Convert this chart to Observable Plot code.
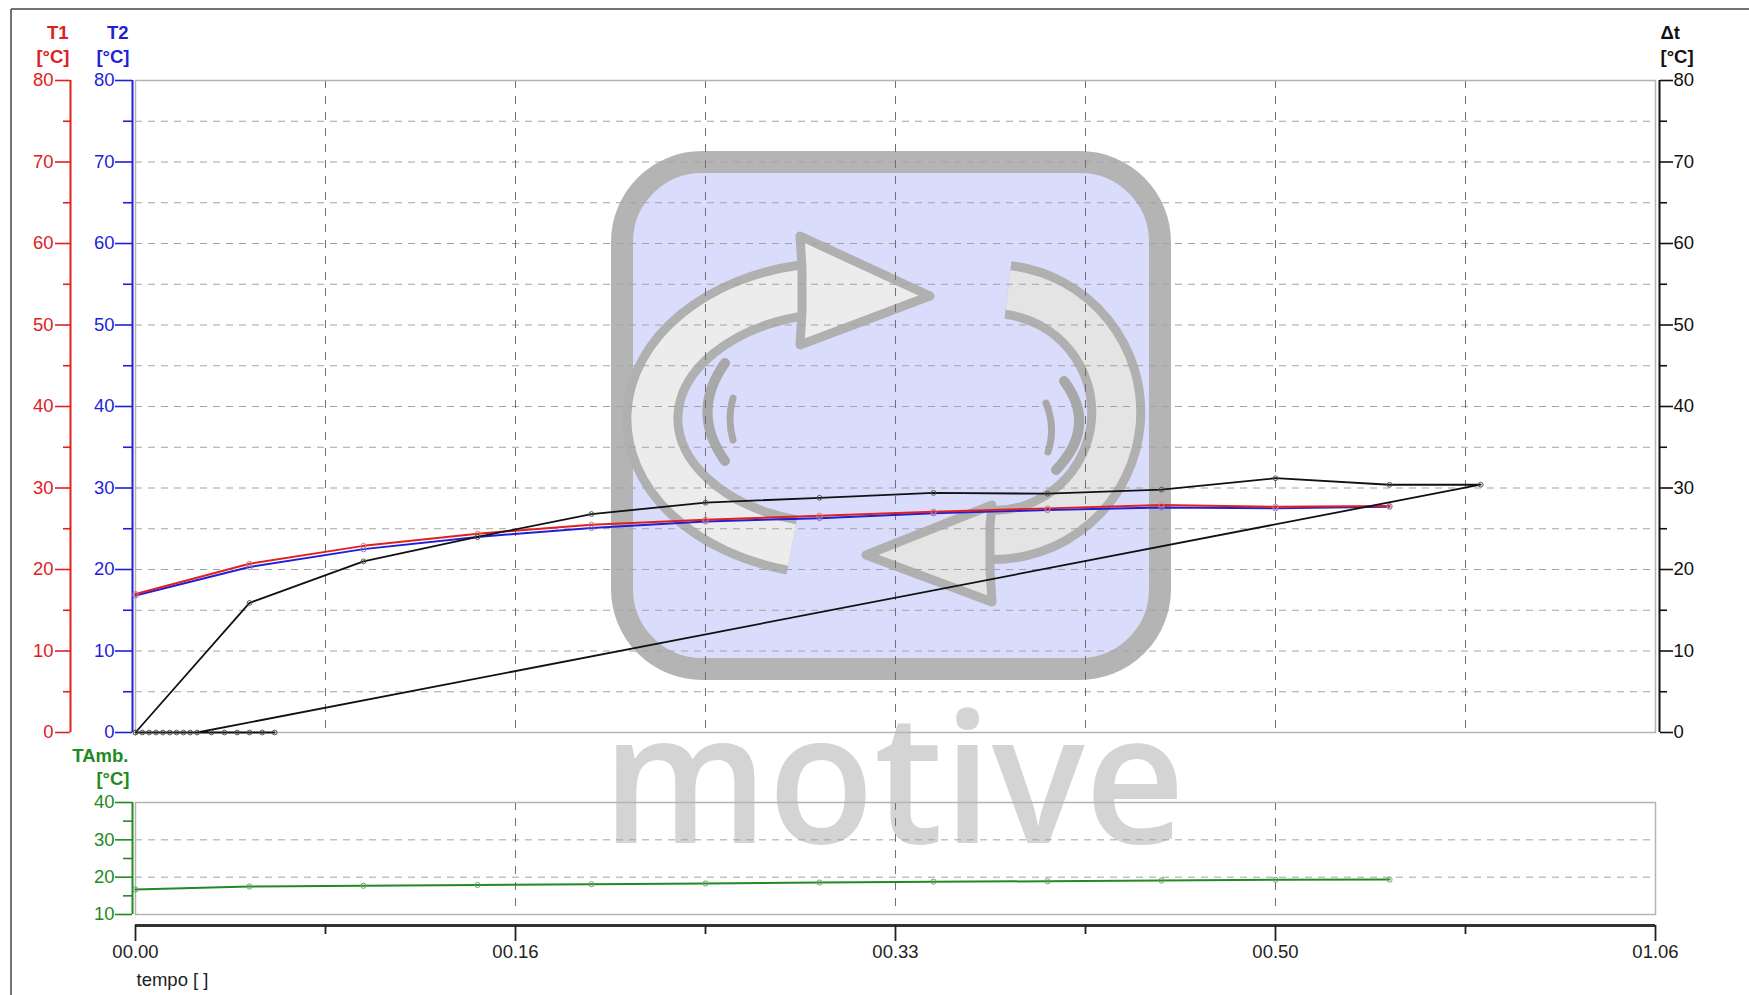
<!DOCTYPE html>
<html>
<head>
<meta charset="utf-8">
<script src="https://cdn.jsdelivr.net/npm/d3@7"></script>
<script src="https://cdn.jsdelivr.net/npm/@observablehq/plot@0.6"></script>
<style>
  html, body { margin: 0; padding: 0; background: #fff; overflow: hidden; }
  #wrap { position: relative; width: 1749px; height: 995px; font-family: "Liberation Sans", Arial, sans-serif; }
  #wrap > svg { position: absolute; left: 0; top: 0; max-width: none !important; }
</style>
</head>
<body>
<div id="wrap"></div>
<script>
// ---------- data ----------
const time = [0, 5, 10, 15, 20, 25, 30, 35, 40, 45, 50, 55];
const t1 = [17.0, 20.7, 22.9, 24.4, 25.5, 26.1, 26.6, 27.1, 27.5, 27.9, 27.7, 27.8];
const t2 = [16.8, 20.3, 22.5, 24.0, 25.1, 25.9, 26.3, 26.9, 27.3, 27.6, 27.5, 27.7];
const tamb = [16.7, 17.5, 17.7, 17.9, 18.1, 18.3, 18.55, 18.8, 18.9, 19.1, 19.3, 19.35];
// Δt series as recorded (order of samples as drawn by the logger)
const dtTime = [0, 5, 10, 15, 20, 25, 30, 35, 40, 45, 50, 55, 59,
                2.7, 2.4, 2.1, 1.8, 1.5, 1.2, 0.9, 0.6, 0.3, 0,
                3.33, 3.9, 4.46, 5.0, 5.56, 6.1];
const dtVal = [0, 15.9, 21.0, 24.0, 26.8, 28.2, 28.8, 29.4, 29.3, 29.8, 31.2, 30.4, 30.4,
               0, 0, 0, 0, 0, 0, 0, 0, 0, 0,
               0, 0, 0, 0, 0, 0];

// axes / ticks
const xDomain = [0, 66.667];
const xMajor = [0, 16.667, 33.333, 50, 66.667];
const xLabels = ["00.00", "00.16", "00.33", "00.50", "01.06"];
const xMinor = [8.333, 25, 41.667, 58.333];
const xGridMain = [8.333, 16.667, 25, 33.333, 41.667, 50, 58.333];
const xGridAmb = [16.667, 33.333, 50];
const yMajor = [0, 10, 20, 30, 40, 50, 60, 70, 80];
const yMinor = [5, 15, 25, 35, 45, 55, 65, 75];
const yGrid = [5, 10, 15, 20, 25, 30, 35, 40, 45, 50, 55, 60, 65, 70, 75];
const ambMajor = [10, 20, 30, 40];
const ambMinor = [15, 25, 35];
const ambGrid = [20, 30];

const RED = "#e0201f", BLUE = "#1f1fd8", GREEN = "#238a23", BLACK = "#111";
const FONT = "'Liberation Sans', Arial, sans-serif";

const rows = (xs, ys) => xs.map((x, i) => ({x, y: ys[i]}));
const T1 = rows(time, t1), T2 = rows(time, t2), TA = rows(time, tamb), DT = rows(dtTime, dtVal);
const xLabelMap = new Map(xMajor.map((v, i) => [v, xLabels[i]]));

const wrap = document.getElementById("wrap");

// ---------- watermark / outer frame (decoration) ----------
const deco = `
<svg width="1749" height="995" xmlns="http://www.w3.org/2000/svg" style="position:absolute;left:0;top:0">
  <line x1="11" y1="9" x2="1749" y2="9" stroke="#444" stroke-width="1.5"/>
  <line x1="11" y1="9" x2="11" y2="995" stroke="#444" stroke-width="1.5"/>
  <rect x="622" y="162" width="538" height="507" rx="80" fill="#d9ddfb" stroke="#b4b4b4" stroke-width="22"/>
  <g fill="none" stroke-linecap="butt">
    <path d="M792,545 A189,131 0 0 1 805,290" stroke="#b0b0b0" stroke-width="60"/>
    <path d="M792,545 A189,131 0 0 1 805,290" stroke="#ececec" stroke-width="42"/>
    <path d="M1008,290 A123,123 0 0 1 988,535" stroke="#b0b0b0" stroke-width="58"/>
    <path d="M1008,290 A123,123 0 0 1 988,535" stroke="#e4e4e4" stroke-width="40"/>
  </g>
  <polygon points="800,236 930,296 800,345 802,312 802,268" fill="#ececec" stroke="#b0b0b0" stroke-width="9" stroke-linejoin="round"/>
  <polygon points="992,505 866,555 992,602 990,570 990,525" fill="#e4e4e4" stroke="#b0b0b0" stroke-width="9" stroke-linejoin="round"/>
  <g fill="none" stroke="#a8a8a8" stroke-linecap="round">
    <path d="M725,363 Q690,412 725,461" stroke-width="10"/>
    <path d="M733,398 Q727,418 733,440" stroke-width="7"/>
    <path d="M1064,381 Q1098,426 1056,470" stroke-width="10"/>
    <path d="M1046,403 Q1056,428 1048,452" stroke-width="7"/>
  </g>
  <text x="602" y="843" font-family="'Open Sans', 'DejaVu Sans', sans-serif" font-weight="600" font-size="182" fill="#d4d4d4" textLength="583" lengthAdjust="spacingAndGlyphs">motive</text>
</svg>`;
wrap.insertAdjacentHTML("beforeend", deco);

const svgStyle = {background: "transparent", fontFamily: FONT, overflow: "visible", maxWidth: "none"};

// ---------- main panel ----------
const main = Plot.plot({
  width: 1749, height: 995,
  marginLeft: 135, marginRight: 94, marginTop: 80, marginBottom: 263,
  x: {domain: xDomain, axis: null},
  y: {domain: [0, 80], axis: null},
  style: svgStyle,
  marks: [
    Plot.ruleY(yGrid, {stroke: "#a3a3a3", strokeDasharray: "7,6", strokeWidth: 1}),
    Plot.ruleX(xGridMain, {stroke: "#707070", strokeDasharray: "8,8", strokeWidth: 1}),
    Plot.frame({stroke: "#b4b4b4", strokeWidth: 1.5}),
    // T1 axis (red)
    Plot.ruleX([0], {y1: 0, y2: 80, dx: -65, stroke: RED, strokeWidth: 2}),
    Plot.axisY(yMajor, {anchor: "left", dx: -65, tickSize: 15, tickPadding: 2, color: RED, fontSize: 18.5, strokeWidth: 1.6, label: null, tickFormat: d => String(d)}),
    Plot.axisY(yMinor, {anchor: "left", dx: -65, tickSize: 7, color: RED, strokeWidth: 1.6, label: null, tickFormat: () => ""}),
    Plot.text(["T1"], {frameAnchor: "top-left", dx: -67, dy: -47, textAnchor: "end", lineAnchor: "middle", fill: RED, fontSize: 18.5, fontWeight: "bold"}),
    Plot.text(["[°C]"], {frameAnchor: "top-left", dx: -66, dy: -23, textAnchor: "end", lineAnchor: "middle", fill: RED, fontSize: 18.5, fontWeight: "bold"}),
    // T2 axis (blue)
    Plot.ruleX([0], {y1: 0, y2: 80, dx: -3, stroke: BLUE, strokeWidth: 2}),
    Plot.axisY(yMajor, {anchor: "left", dx: -3, tickSize: 17, tickPadding: 1, color: BLUE, fontSize: 18.5, strokeWidth: 1.6, label: null, tickFormat: d => String(d)}),
    Plot.axisY(yMinor, {anchor: "left", dx: -3, tickSize: 9, color: BLUE, strokeWidth: 1.6, label: null, tickFormat: () => ""}),
    Plot.text(["T2"], {frameAnchor: "top-left", dx: -7, dy: -47, textAnchor: "end", lineAnchor: "middle", fill: BLUE, fontSize: 18.5, fontWeight: "bold"}),
    Plot.text(["[°C]"], {frameAnchor: "top-left", dx: -6, dy: -23, textAnchor: "end", lineAnchor: "middle", fill: BLUE, fontSize: 18.5, fontWeight: "bold"}),
    // Δt axis (black, right)
    Plot.ruleX([xDomain[1]], {y1: 0, y2: 80, dx: 4, stroke: BLACK, strokeWidth: 2}),
    Plot.axisY(yMajor, {anchor: "right", dx: 4, tickSize: 13, tickPadding: 1, color: BLACK, fontSize: 18.5, strokeWidth: 1.6, label: null, tickFormat: d => String(d)}),
    Plot.axisY(yMinor, {anchor: "right", dx: 4, tickSize: 7, color: BLACK, strokeWidth: 1.6, label: null, tickFormat: () => ""}),
    Plot.text(["Δt"], {frameAnchor: "top-right", dx: 5, dy: -47, textAnchor: "start", lineAnchor: "middle", fill: BLACK, fontSize: 18.5, fontWeight: "bold"}),
    Plot.text(["[°C]"], {frameAnchor: "top-right", dx: 5, dy: -23, textAnchor: "start", lineAnchor: "middle", fill: BLACK, fontSize: 18.5, fontWeight: "bold"}),
    // data
    Plot.line(T2, {x: "x", y: "y", stroke: BLUE, strokeWidth: 2}),
    Plot.dot(T2, {x: "x", y: "y", r: 2.6, stroke: "#7a7ad8", strokeWidth: 1, fill: "none"}),
    Plot.line(T1, {x: "x", y: "y", stroke: RED, strokeWidth: 2}),
    Plot.dot(T1, {x: "x", y: "y", r: 2.6, stroke: "#d88080", strokeWidth: 1, fill: "none"}),
    Plot.line(DT, {x: "x", y: "y", stroke: BLACK, strokeWidth: 1.8, curve: "linear"}),
    Plot.dot(DT, {x: "x", y: "y", r: 2.4, stroke: "#555", strokeWidth: 1, fill: "none"})
  ]
});
wrap.appendChild(main);

// ---------- ambient panel + time axis ----------
const amb = Plot.plot({
  width: 1749, height: 995,
  marginLeft: 135, marginRight: 94, marginTop: 802, marginBottom: 81,
  x: {domain: xDomain, axis: null},
  y: {domain: [10, 40], axis: null},
  style: svgStyle,
  marks: [
    Plot.ruleY(ambGrid, {stroke: "#a3a3a3", strokeDasharray: "7,6", strokeWidth: 1}),
    Plot.ruleX(xGridAmb, {stroke: "#707070", strokeDasharray: "8,8", strokeWidth: 1}),
    Plot.frame({stroke: "#b4b4b4", strokeWidth: 1.5}),
    Plot.ruleX([0], {y1: 10, y2: 40, dx: -3, stroke: GREEN, strokeWidth: 2}),
    Plot.axisY(ambMajor, {anchor: "left", dx: -3, tickSize: 17, tickPadding: 1, color: GREEN, fontSize: 18.5, strokeWidth: 1.6, label: null, tickFormat: d => String(d)}),
    Plot.axisY(ambMinor, {anchor: "left", dx: -3, tickSize: 9, color: GREEN, strokeWidth: 1.6, label: null, tickFormat: () => ""}),
    Plot.text(["TAmb."], {frameAnchor: "top-left", dx: -7, dy: -46, textAnchor: "end", lineAnchor: "middle", fill: GREEN, fontSize: 18.5, fontWeight: "bold"}),
    Plot.text(["[°C]"], {frameAnchor: "top-left", dx: -6, dy: -23, textAnchor: "end", lineAnchor: "middle", fill: GREEN, fontSize: 18.5, fontWeight: "bold"}),
    Plot.line(TA, {x: "x", y: "y", stroke: GREEN, strokeWidth: 2}),
    Plot.dot(TA, {x: "x", y: "y", r: 2.6, stroke: "#6aa86a", strokeWidth: 1, fill: "none"}),
    // time axis
    Plot.ruleY([10], {x1: xDomain[0], x2: xDomain[1], dy: 11, stroke: "#333", strokeWidth: 3}),
    Plot.axisX(xMajor, {anchor: "bottom", dy: 11, tickSize: 16, tickPadding: 3, color: "#222", fontSize: 18.5, strokeWidth: 1.8, label: null, tickFormat: d => xLabelMap.get(d)}),
    Plot.axisX(xMinor, {anchor: "bottom", dy: 11, tickSize: 9, color: "#222", strokeWidth: 1.8, label: null, tickFormat: () => ""}),
    Plot.text(["tempo [ ]"], {frameAnchor: "bottom-left", dx: 1, dy: 66, textAnchor: "start", lineAnchor: "middle", fill: "#222", fontSize: 18.5})
  ]
});
wrap.appendChild(amb);
</script>
</body>
</html>
